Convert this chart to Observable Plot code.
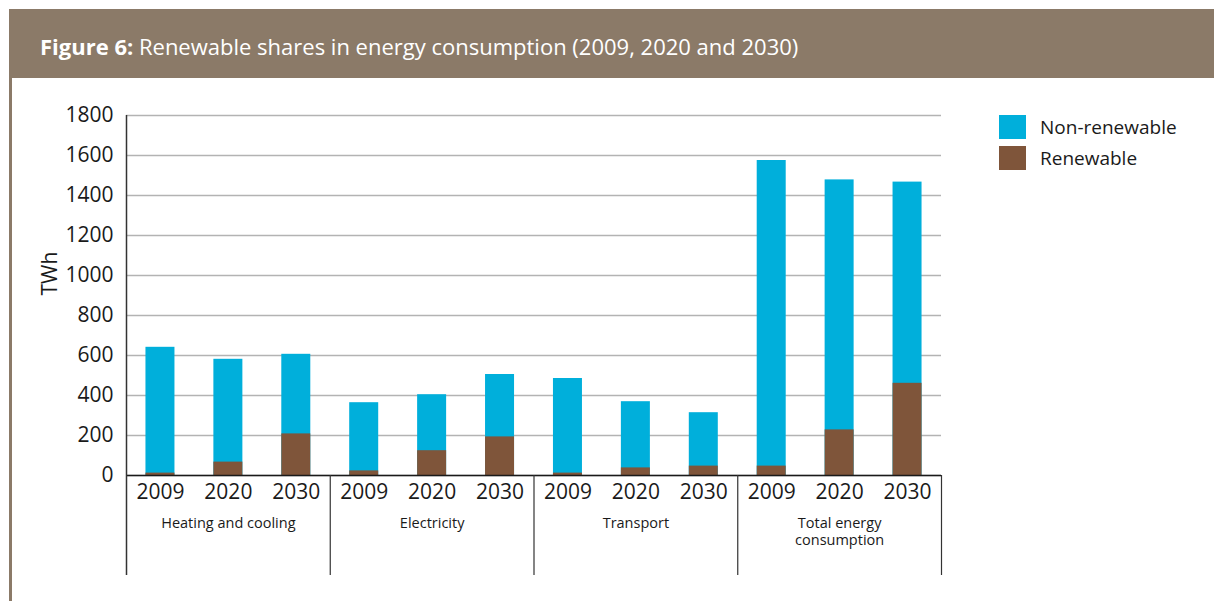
<!DOCTYPE html>
<html>
<head>
<meta charset="utf-8">
<script src="https://cdn.jsdelivr.net/npm/d3@7"></script>
<script src="https://cdn.jsdelivr.net/npm/@observablehq/plot@0.6"></script>
<style>
  html, body { margin: 0; padding: 0; background: #fff; }
  body { width: 1214px; height: 601px; position: relative; overflow: hidden; font-family: "Open Sans", sans-serif; }
  #header { position: absolute; left: 9px; top: 9px; width: 1205px; height: 69px; background: #8b7a68; }
  #title { position: absolute; left: 40px; top: 31px; color: #fff; font-size: 22px; letter-spacing: 0; white-space: nowrap; }
  #title b { font-weight: 700; }
  #border { position: absolute; left: 9px; top: 78px; width: 3px; height: 523px; background: #8b7a68; }
  #chart { position: absolute; left: 0; top: 78px; }
  #legend { position: absolute; left: 999px; top: 115px; font-size: 19px; color: #1a1a1a; }
  .item { display: flex; align-items: center; height: 24px; margin-bottom: 7px; }
  .sw { width: 27px; height: 24px; margin-right: 14px; }
</style>
</head>
<body>
<div id="header"></div>
<div id="title"><b>Figure 6:</b> Renewable shares in energy consumption (2009, 2020 and 2030)</div>
<div id="border"></div>
<div id="chart"></div>
<div id="legend"></div>
<script>
// ---- data ----
const groups = ["Heating and cooling", "Electricity", "Transport", "Total energy consumption"];
const groupLabels = ["Heating and cooling", "Electricity", "Transport", "Total energy\nconsumption"];
const years = ["2009", "2020", "2030"];
const totalValues = [
  [641, 581, 606],
  [364, 404, 505],
  [485, 369, 314],
  [1575, 1478, 1467]
];
const renewableValues = [
  [12, 67, 208],
  [23, 124, 193],
  [12, 38, 47],
  [47, 228, 461]
];
const seriesNames = ["Non-renewable", "Renewable"];
const seriesColors = ["#00afdb", "#7f553a"];
const yTicks = [0, 200, 400, 600, 800, 1000, 1200, 1400, 1600, 1800];
const yLabel = "TWh";

// ---- build tables ----
const key = (g, y) => g + "|" + y;
const keys = groups.flatMap(g => years.map(y => key(g, y)));
const totals = [], renewables = [];
groups.forEach((g, gi) => years.forEach((y, yi) => {
  totals.push({key: key(g, y), value: totalValues[gi][yi], type: seriesNames[0]});
  renewables.push({key: key(g, y), value: renewableValues[gi][yi], type: seriesNames[1]});
}));

// ---- layout ----
const W = 1214, H = 523, ML = 126, MR = 273, MT = 37, MB = 126;
const step = (W - ML - MR) / keys.length;
const below = 100;
const font = "Open Sans";

const plot = Plot.plot({
  width: W, height: H,
  marginLeft: ML, marginRight: MR, marginTop: MT, marginBottom: MB,
  style: {fontFamily: font, background: "transparent", color: "#1a1a1a"},
  x: {domain: keys, paddingInner: 0.573, paddingOuter: 0.2865, round: false, axis: null},
  y: {domain: [0, 1800], axis: null},
  color: {domain: seriesNames, range: seriesColors},
  marks: [
    Plot.gridY({ticks: yTicks, stroke: "#b3b3b3", strokeOpacity: 1, strokeWidth: 1.4}),
    Plot.barY(totals, {x: "key", y: "value", fill: "type"}),
    Plot.barY(renewables, {x: "key", y: "value", fill: "type"}),
    Plot.ruleY([0], {stroke: "#1a1a1a", strokeWidth: 1.5}),
    // y axis line extending below the axis
    Plot.ruleX([keys[0]], {x: d => d, dx: -step / 2, insetBottom: -below, stroke: "#333", strokeWidth: 1.5}),
    // group separators below the axis
    Plot.ruleX(groups.slice(1), {x: g => key(g, years[0]), dx: -step / 2, y1: 0, y2: 0, insetBottom: -below, stroke: "#333", strokeWidth: 1.2}),
    Plot.ruleX([keys[keys.length - 1]], {x: d => d, dx: step / 2, y1: 0, y2: 0, insetBottom: -below, stroke: "#333", strokeWidth: 1.2}),
    Plot.axisY({ticks: yTicks, tickSize: 0, tickPadding: 13, fontSize: 21, label: null, tickFormat: d => String(d)}),
    Plot.axisX({tickSize: 0, tickPadding: 9, fontSize: 21, label: null, tickFormat: d => d.split("|")[1]}),
    Plot.text(groups, {x: g => key(g, years[1]), text: (g, i) => groupLabels[i], frameAnchor: "bottom", lineAnchor: "top", dy: 40, fontSize: 14.5, lineHeight: 1.2, fill: "#1a1a1a"}),
    Plot.text([yLabel], {text: d => d, frameAnchor: "left", rotate: -90, dx: -76, fontSize: 21, fill: "#1a1a1a"})
  ]
});
document.getElementById("chart").appendChild(plot);

// ---- legend ----
const legend = document.getElementById("legend");
seriesNames.forEach((n, i) => {
  const it = document.createElement("div");
  it.className = "item";
  it.innerHTML = `<span class="sw" style="background:${seriesColors[i]}"></span><span>${n}</span>`;
  legend.appendChild(it);
});
</script>
</body>
</html>
